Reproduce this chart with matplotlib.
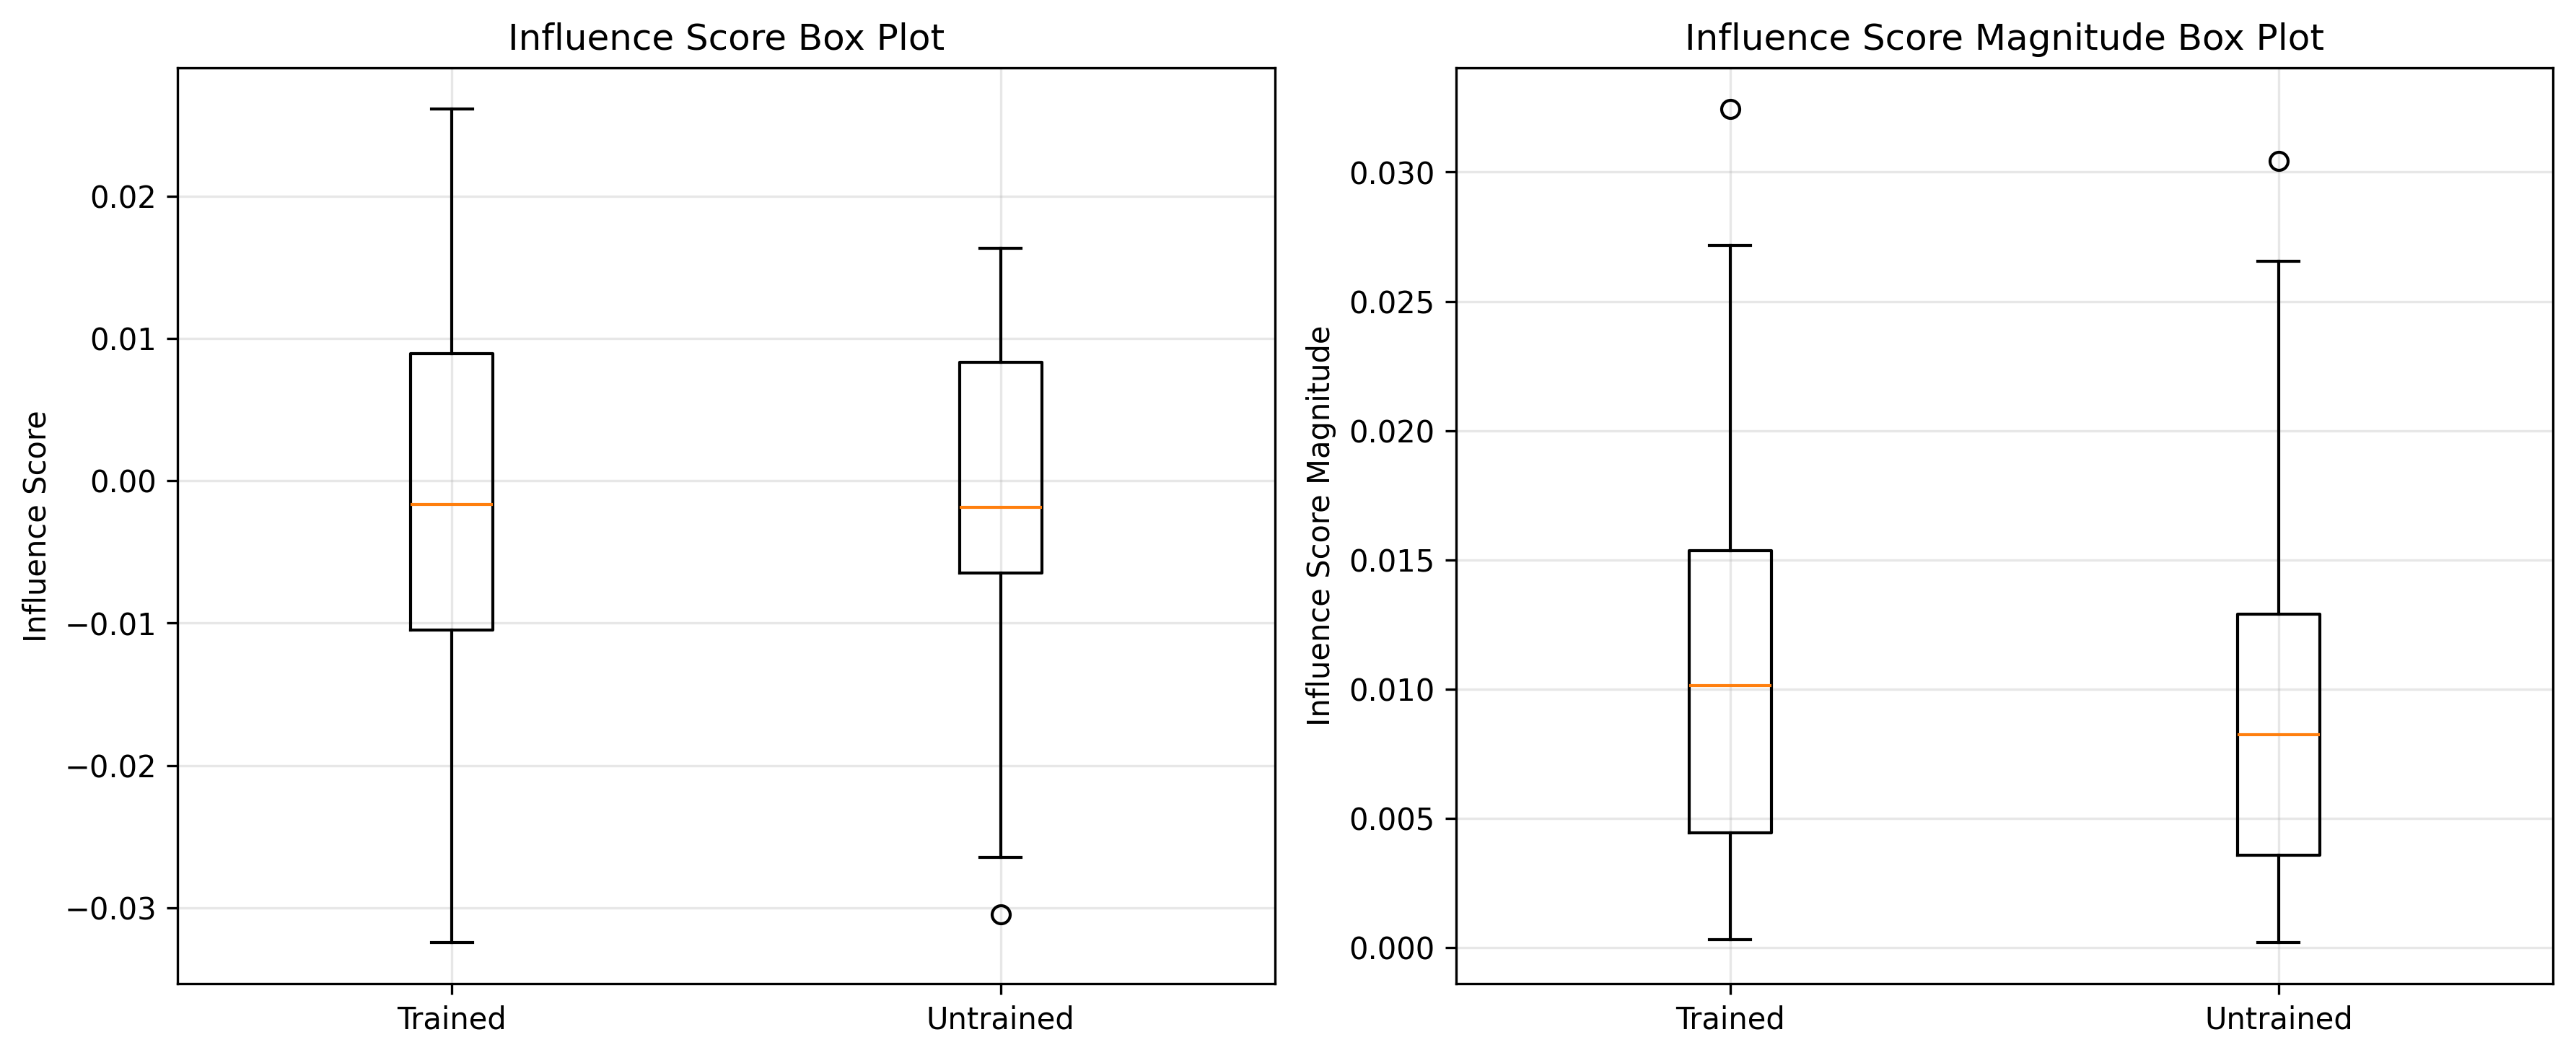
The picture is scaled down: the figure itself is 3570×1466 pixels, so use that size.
import matplotlib
matplotlib.use("Agg")
import matplotlib.pyplot as plt

categories = ["Trained", "Untrained"]

# Influence score (signed)
score_whislo = [-0.03244, -0.02647]
score_q1 = [-0.01046, -0.00647]
score_med = [-0.00168, -0.00185]
score_q3 = [0.00895, 0.00832]
score_whishi = [0.02613, 0.01634]
score_fliers = [[], [-0.03046]]

# Influence score magnitude
mag_whislo = [0.00030, 0.00021]
mag_q1 = [0.00444, 0.00359]
mag_med = [0.01014, 0.00824]
mag_q3 = [0.01535, 0.01289]
mag_whishi = [0.02718, 0.02655]
mag_fliers = [[0.03243], [0.03042]]


def make_stats(lo, q1, med, q3, hi, fl):
    return [dict(label=c, whislo=a, q1=b, med=m, q3=d, whishi=e, fliers=f)
            for c, a, b, m, d, e, f in zip(categories, lo, q1, med, q3, hi, fl)]


fig, axes = plt.subplots(1, 2, figsize=(11.9, 4.887), dpi=300)

ax = axes[0]
ax.bxp(make_stats(score_whislo, score_q1, score_med, score_q3, score_whishi, score_fliers))
ax.set_title("Influence Score Box Plot")
ax.set_ylabel("Influence Score")
ax.grid(True, alpha=0.3)

ax = axes[1]
ax.bxp(make_stats(mag_whislo, mag_q1, mag_med, mag_q3, mag_whishi, mag_fliers))
ax.set_title("Influence Score Magnitude Box Plot")
ax.set_ylabel("Influence Score Magnitude")
ax.grid(True, alpha=0.3)

fig.subplots_adjust(left=0.069, right=0.991, top=0.936, bottom=0.070, wspace=0.165)
fig.savefig("out.png", dpi=300)
